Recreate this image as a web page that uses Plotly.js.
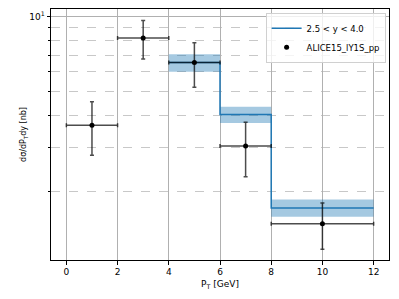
<!DOCTYPE html>
<html>
<head>
<meta charset="utf-8">
<script src="https://cdn.plot.ly/plotly-3.0.1.min.js"></script>
<style>html,body{margin:0;padding:0;background:#fff;}#chart{width:399px;height:299px;}</style>
</head>
<body>
<div id="chart"></div>
<script>
// Data points (ALICE15)
const dataX = [1, 3, 5, 7, 10];
const dataXerr = [1, 1, 1, 1, 2];
const dataY = [3.67, 8.2, 6.53, 3.03, 1.48];
const dataErrPlus = [0.88, 1.42, 1.32, 0.74, 0.31];
const dataErrMinus = [0.89, 1.45, 1.32, 0.75, 0.31];

// Theory step curve
const stepX = [4, 6, 8, 12];
const stepY = [6.53, 4.05, 1.71, 1.71];
const stepLow = [6.0, 3.74, 1.58, 1.58];
const stepHigh = [7.06, 4.35, 1.85, 1.85];

const xTicks = [0, 2, 4, 6, 8, 10, 12];
const yMajor = [10];
const yMajorText = ['10<sup>1</sup>'];
const yMinor = [2, 3, 4, 5, 6, 7, 8, 9];

const traces = [
  {x: stepX, y: stepLow, mode: 'lines', line: {shape: 'hv', width: 0, color: 'rgba(0,0,0,0)'}, showlegend: false, hoverinfo: 'skip'},
  {x: stepX, y: stepHigh, mode: 'lines', line: {shape: 'hv', width: 0, color: 'rgba(0,0,0,0)'}, fill: 'tonexty', fillcolor: 'rgba(31,119,180,0.4)', showlegend: false, hoverinfo: 'skip'},
  {x: stepX, y: stepY, mode: 'lines', line: {shape: 'hv', width: 1.5, color: '#1f77b4'}, name: '2.5 &lt; y &lt; 4.0'},
  {x: dataX, y: dataY, mode: 'markers', marker: {color: '#000', size: 5},
   error_x: {type: 'data', array: dataXerr, color: 'rgba(0,0,0,0.7)', thickness: 1.5, width: 2},
   error_y: {type: 'data', symmetric: false, array: dataErrPlus, arrayminus: dataErrMinus, color: 'rgba(0,0,0,0.7)', thickness: 1.5, width: 2},
   name: 'ALICE15_lY1S_pp'}
];

const layout = {
  width: 399, height: 299,
  margin: {l: 51, r: 10, t: 9, b: 39},
  paper_bgcolor: '#fff', plot_bgcolor: '#fff',
  font: {family: 'DejaVu Sans', size: 9, color: '#000'},
  showlegend: true,
  legend: {x: 0.99, y: 0.985, xanchor: 'right', yanchor: 'top', bgcolor: 'rgba(255,255,255,0.8)', bordercolor: '#d0d0d0', borderwidth: 1, font: {size: 8.5, color: '#000'}, traceorder: 'normal', tracegroupgap: 0, itemwidth: 30},
  xaxis: {
    range: [-0.6, 12.6], tickvals: xTicks, ticks: 'outside', ticklen: 3.5, tickcolor: '#000',
    showline: true, linecolor: '#000', linewidth: 1, mirror: true,
    showgrid: true, gridcolor: '#b0b0b0', gridwidth: 1, zeroline: false,
    title: {text: 'P<sub>T</sub> [GeV]', font: {size: 9, color: '#000'}, standoff: 4}
  },
  yaxis: {
    type: 'log', range: [Math.log10(1.06), Math.log10(10.7)],
    tickvals: yMajor, ticktext: yMajorText, ticks: 'outside', ticklen: 3.5, tickcolor: '#000',
    showline: true, linecolor: '#000', linewidth: 1, mirror: true,
    showgrid: true, gridcolor: '#b0b0b0', gridwidth: 1, zeroline: false,
    minor: {tickvals: yMinor, showgrid: true, griddash: 'dash', gridcolor: '#c8c8c8', gridwidth: 1, ticks: 'outside', ticklen: 2, tickcolor: '#000'},
    title: {text: 'dσ/dP<sub>T</sub>dy [nb]', font: {size: 8, color: '#000'}, standoff: 1}
  }
};

Plotly.newPlot('chart', traces, layout, {displayModeBar: false, staticPlot: true});
</script>
</body>
</html>
